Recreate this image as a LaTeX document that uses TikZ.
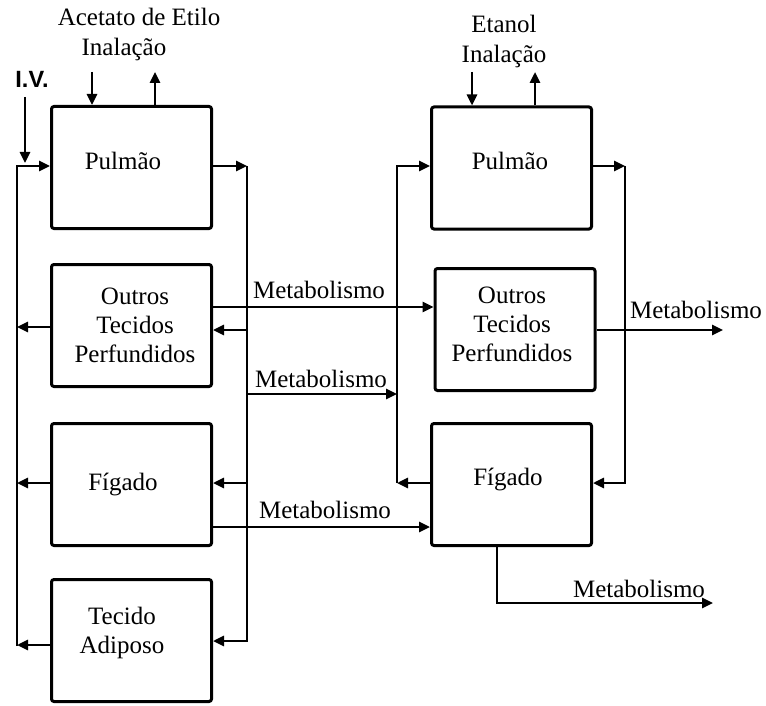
\documentclass[tikz,border=0pt]{standalone}
\usepackage{fontspec}
\setmainfont{Liberation Serif}
\newfontfamily\ivfont{Liberation Sans}
\usetikzlibrary{arrows.meta}
\begin{document}
\begin{tikzpicture}[x=1pt,y=-1pt,
  organ/.style={draw,line width=3pt,rounded corners=2.5pt,minimum width=160pt,
    minimum height=122pt,inner sep=0pt},
  flow/.style={line width=2.6pt,-{Triangle[length=11pt,width=10pt]}},
  txt/.style={font=\fontsize{25}{29}\selectfont,anchor=base,inner sep=0pt,align=center},
  met/.style={font=\fontsize{25}{29}\selectfont,anchor=base,inner sep=0pt},
  ivst/.style={font=\ivfont\bfseries\fontsize{23.5}{26}\selectfont,anchor=base,inner sep=0pt}]
\useasboundingbox (0,0) rectangle (766,706);

% compartments of the ethyl acetate model
\node[organ] (lp) at (131.5,167.5) {};
\node[organ] (lo) at (131.5,325.5) {};
\node[organ] (lf) at (131.5,484.5) {};
\node[organ] (la) at (131.5,640.5) {};
% compartments of the ethanol model
\node[organ] (rp) at (511.5,168) {};
\node[organ] (ro) at (515,329.5) {};
\node[organ] (rf) at (511.5,484.5) {};

% compartment labels (multi-line labels sit on their last baseline)
\node[txt] (lpT) at (123,170) {Pulmão};
\node[txt] (loT) at (135,362) {Outros\\Tecidos\\Perfundidos};
\node[txt] (lfT) at (123,490) {Fígado};
\node[txt] (laT) at (122,653) {Tecido\\Adiposo};
\node[txt] (rpT) at (510,170) {Pulmão};
\node[txt] (roT) at (512,361) {Outros\\Tecidos\\Perfundidos};
\node[txt] (rfT) at (508,485) {Fígado};

% headings
\node[txt] (hAcet) at (139,26) {Acetato de Etilo};
\node[txt] (hInA) at (124,56) {Inalação};
\node[txt] (hEt) at (504,33) {Etanol};
\node[txt] (hInB) at (504,63) {Inalação};
\node[ivst] (hIV) at (32,88) {I.V.};

% bus points
\coordinate (ivTop) at (25,97);
\coordinate (ivEnd) at (25,163);
\coordinate (lbt) at (17,166);
\coordinate (lbb) at (17,646);
\coordinate (rbt) at (247,166);
\coordinate (rbb) at (247,641);
\coordinate (qlt) at (397,166);
\coordinate (qlb) at (397,483);
\coordinate (qrt) at (625,166);
\coordinate (qrb) at (625,483);
\coordinate (inA) at (92,72);
\coordinate (outA) at (155,72);
\coordinate (inB) at (472,72);
\coordinate (outB) at (535,72);
\coordinate (metRO) at (723,330);
\coordinate (metBend) at (497,603);
\coordinate (metRF) at (713,603);

% inhalation and i.v. inputs
\draw[flow] (ivTop) -- (ivEnd);
\draw[flow] (inA) -- (inA |- lp.north);
\draw[flow] (outA |- lp.north) -- (outA);
\draw[flow] (inB) -- (inB |- rp.north);
\draw[flow] (outB |- rp.north) -- (outB);

% ethyl acetate circulation
\draw[flow] (lbb) -- (lbt) -- (lbt -| lp.west);
\draw[flow] (lp.east |- rbt) -- (rbt);
\draw[flow] (rbt) -- (rbb) -- (rbb -| la.east);
\draw[flow] (rbt |- 0,330) -- (lo.east |- 0,330);
\draw[flow] (rbt |- 0,483) -- (lf.east |- 0,483);
\draw[flow] (lo.west |- 0,327) -- (lbt |- 0,327);
\draw[flow] (lf.west |- 0,483) -- (lbt |- 0,483);
\draw[flow] (la.west |- 0,645) -- (lbt |- 0,645);

% ethanol circulation
\draw[flow] (qlb) -- (qlt) -- (qlt -| rp.west);
\draw[flow] (rf.west |- qlb) -- (qlb);
\draw[flow] (rp.east |- qrt) -- (qrt);
\draw[flow] (qrt) -- (qrb) -- (qrb -| rf.east);

% metabolism links
\draw[flow] (lo.east |- 0,307) -- (ro.west |- 0,307);
\draw[flow] (rbt |- 0,394) -- (qlt |- 0,394);
\draw[flow] (lf.east |- 0,527) -- (rf.west |- 0,527);
\draw[flow] (ro.east |- metRO) -- (metRO);
\draw[flow] (metBend |- rf.south) -- (metBend) -- (metRF);

\node[met] (m1) at (319,298) {Metabolismo};
\node[met] (m2) at (321,387) {Metabolismo};
\node[met] (m3) at (325,518) {Metabolismo};
\node[met] (m4) at (696,318) {Metabolismo};
\node[met] (m5) at (639,597) {Metabolismo};
\end{tikzpicture}
\end{document}
